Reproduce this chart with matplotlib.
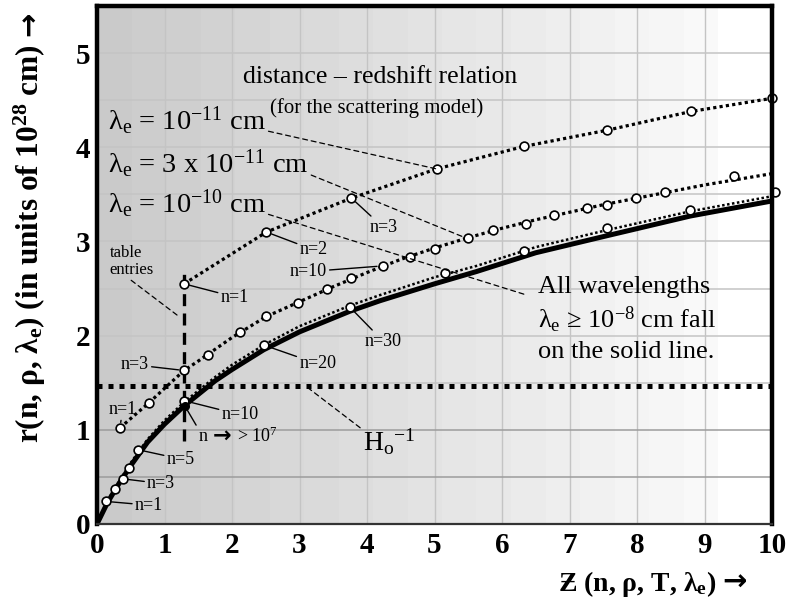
import numpy as np
import matplotlib
matplotlib.use("Agg")
import matplotlib.pyplot as plt

# ======================================================
# DATA  (Z = redshift, r in units of 1e28 cm)
# ======================================================
# lambda_e = 1e-11 cm
z_11 = [1.29, 2.51, 3.77, 5.03, 6.33, 7.55, 8.80, 10.0]
r_11 = [2.55, 3.10, 3.46, 3.77, 4.01, 4.18, 4.38, 4.52]

# lambda_e = 3e-11 cm (table entries + dotted guide)
z_3e11 = [0.34, 0.775, 1.29, 1.65, 2.12, 2.51, 2.98, 3.41, 3.77, 4.23, 4.63,
          5.01, 5.50, 5.87, 6.36, 6.77, 7.26, 7.56, 7.99, 8.41, 9.44]
r_3e11 = [1.02, 1.29, 1.63, 1.79, 2.04, 2.21, 2.35, 2.49, 2.61, 2.74, 2.84,
          2.92, 3.04, 3.12, 3.19, 3.28, 3.35, 3.39, 3.46, 3.53, 3.70]
z_3e11_line = [0.34, 0.5, 0.775, 1.0, 1.29, 1.5, 2.0, 2.5, 3.0, 3.5, 4.0, 4.5,
               5.0, 5.5, 6.0, 6.5, 7.0, 7.5, 8.0, 8.5, 9.0, 9.5, 10.0]
r_3e11_line = [1.02, 1.12, 1.29, 1.44, 1.63, 1.73, 1.98, 2.20, 2.36, 2.52, 2.67, 2.81,
               2.93, 3.04, 3.14, 3.23, 3.31, 3.39, 3.46, 3.53, 3.60, 3.66, 3.72]

# lambda_e = 1e-10 cm (table entries + dotted guide)
z_10 = [0.13, 0.27, 0.38, 0.48, 0.60, 1.29, 2.47, 3.75, 5.16, 6.33, 7.55, 8.79, 10.05]
r_10 = [0.24, 0.37, 0.48, 0.59, 0.79, 1.31, 1.90, 2.30, 2.67, 2.90, 3.14, 3.33, 3.52]
z_line = [0, 0.15, 0.3, 0.5, 0.75, 1.0, 1.3, 1.75, 2.0, 2.47, 3.0, 3.75, 4.19,
          5.0, 5.62, 6.5, 7.55, 8.79, 10.0]
r_10_line = [0, 0.24, 0.42, 0.65, 0.90, 1.10, 1.30, 1.56, 1.69, 1.90, 2.10, 2.32, 2.43,
             2.62, 2.74, 2.94, 3.12, 3.32, 3.48]

# lambda_e >= 1e-8 cm : solid line
r_solid = [0, 0.22, 0.40, 0.62, 0.87, 1.06, 1.26, 1.52, 1.64, 1.85, 2.04, 2.26, 2.37,
           2.55, 2.68, 2.88, 3.06, 3.27, 3.43]

# limit n -> >1e7 at the table redshift
z_limit, r_limit = 1.30, 1.255
z_table = 1.29
table_span = [0.88, 2.72]
r_hubble = 1.46

x_ticks = list(range(0, 11))
y_ticks = [0, 1, 2, 3, 4, 5]

# ======================================================
# STYLE
# ======================================================
plt.rcParams["font.family"] = ["Liberation Serif", "DejaVu Sans"]
plt.rcParams["mathtext.fontset"] = "custom"
plt.rcParams["mathtext.rm"] = "Liberation Serif"
plt.rcParams["mathtext.it"] = "Liberation Serif:italic"
plt.rcParams["mathtext.bf"] = "Liberation Serif:bold"

# chunky arrow glyph
arrow_font = dict(family="DejaVu Sans", fontweight="bold")

fig = plt.figure(figsize=(7.91, 6.01), dpi=100)
ax = fig.add_axes([97 / 791, 77 / 601, 675 / 791, 518 / 601])
ax.set_xlim(0, 10)
ax.set_ylim(0, 5.5)

# shaded background, darker on the left
n_bands = 18
edges = np.append(np.linspace(0, 9.2, n_bands + 1), 10.0)
shade = np.append(np.linspace(0.79, 0.975, n_bands), 1.0)
ax.pcolormesh(edges, [0, 5.5], shade[None, :], cmap="gray", vmin=0, vmax=1,
              shading="flat", zorder=0)

# grid
for xv in x_ticks[1:-1]:
    ax.axvline(xv, color="#c4c4c4", lw=1.0, zorder=1)
for yv in np.arange(0.5, 5.5, 0.5):
    col = "#9c9c9c" if yv <= 1.0 else "#c4c4c4"
    ax.axhline(yv, color=col, lw=1.1, zorder=1)

# H_o^-1 line
ax.axhline(r_hubble, color="black", lw=3.6, dashes=(1, 1.2), dash_capstyle="butt", zorder=3)

# table entries vertical dashed
ax.plot([z_table, z_table], table_span, color="black", lw=2.4,
        dashes=(3.6, 2.2), dash_capstyle="butt", zorder=3)

# curves
ax.plot(z_line, r_solid, color="black", lw=3.6, solid_capstyle="butt", zorder=4)
ax.plot(z_line, r_10_line, color="black", lw=1.8, dashes=(1, 1), dash_capstyle="butt", zorder=4)
ax.plot(z_3e11_line, r_3e11_line, color="black", lw=2.3, dashes=(1, 1),
        dash_capstyle="butt", zorder=4)
ax.plot(z_11, r_11, color="black", lw=2.3, dashes=(1, 1), dash_capstyle="butt", zorder=4)

mk = dict(ls="none", marker="o", ms=6.3, mfc="white", mec="black", mew=1.2,
          zorder=6, clip_on=False)
ax.plot(z_11, r_11, **mk)
ax.plot(z_3e11, r_3e11, **mk)
ax.plot(z_10, r_10, **mk)
ax.plot([z_limit], [r_limit], ls="none", marker="o", ms=5.5, color="black", zorder=7)

# ======================================================
# LABELS
# ======================================================
lead = dict(arrowstyle="-", color="black", lw=1.0, shrinkA=0, shrinkB=4)
small = 13


def n_label(text, xy, xytext, ha="center"):
    ax.annotate(text, xy=xy, xytext=xytext, fontsize=small, ha=ha, va="center",
                arrowprops=lead, zorder=8)


# solid line / 1e-10
n_label("n=1", (z_10[0], r_10[0]), (0.77, 0.20))
n_label("n=3", (z_10[2], r_10[2]), (0.95, 0.43))
n_label("n=5", (z_10[4], r_10[4]), (1.24, 0.69))
n_label("n=10", (z_10[5], r_10[5]), (2.12, 1.16))
n_label("n=20", (z_10[6], r_10[6]), (3.27, 1.70))
n_label("n=30", (z_10[7], r_10[7]), (4.24, 1.94))
n_label("n", (z_limit, r_limit), (1.50, 0.93), ha="left")
ax.text(1.72, 0.935, "\u2192", fontsize=16, va="center", zorder=8, **arrow_font)
ax.text(2.08, 0.93, "> 10$^{7}$", fontsize=small, va="center", zorder=8)

# 3e-11
n_label("n=1", (z_3e11[0], r_3e11[0]), (0.38, 1.22))
n_label("n=3", (z_3e11[2], r_3e11[2]), (0.56, 1.69))
n_label("n=10", (z_3e11[9], r_3e11[9]), (3.13, 2.68))

# 1e-11
n_label("n=1", (z_11[0], r_11[0]), (2.04, 2.41))
n_label("n=2", (z_11[1], r_11[1]), (3.21, 2.91))
n_label("n=3", (z_11[2], r_11[2]), (4.24, 3.15))

dash_lead = dict(arrowstyle="-", color="black", lw=0.9, linestyle=(0, (4, 3)),
                 shrinkA=0, shrinkB=0)

ax.annotate("table\nentries", xy=(z_table - 0.07, 2.20), xytext=(0.19, 2.79),
            fontsize=small - 1, ha="left", va="center", linespacing=1.05,
            arrowprops=dict(dash_lead, relpos=(0.4, 0.0)), zorder=8)

big = 19
ax.text(2.16, 4.75, "distance \u2013 redshift relation", fontsize=18.5, va="center", zorder=8)
ax.text(2.56, 4.42, "(for the scattering model)", fontsize=15, va="center", zorder=8)

lam_labels = [r"λ$_\mathrm{e}$ = 10$^{-11}$ cm",
              r"λ$_\mathrm{e}$ = 3 x 10$^{-11}$ cm",
              r"λ$_\mathrm{e}$ = 10$^{-10}$ cm"]
lam_y = [4.28, 3.82, 3.40]
lam_targets = [(z_11[3], r_11[3]), (5.42, 3.05), (6.37, 2.43)]
for txt, yv, tgt in zip(lam_labels, lam_y, lam_targets):
    ax.annotate(txt, xy=tgt, xytext=(0.16, yv), fontsize=20.5, ha="left",
                va="center", arrowprops=dict(dash_lead, relpos=(1.0, 0.2)), zorder=8)

ax.text(6.53, 2.52, "All wavelengths", fontsize=big, va="center", zorder=8)
ax.text(6.53, 2.17, r"λ$_\mathrm{e}$ ≥ 10$^{-8}$ cm fall", fontsize=big, va="center", zorder=8)
ax.text(6.53, 1.83, "on the solid line.", fontsize=big, va="center", zorder=8)

ax.annotate(r"H$_\mathrm{o}$$^{-1}$", xy=(3.10, r_hubble), xytext=(3.94, 0.87),
            fontsize=20, ha="left", va="center",
            arrowprops=dict(dash_lead, relpos=(0.0, 0.9)), zorder=8)

# ======================================================
# AXES
# ======================================================
ax.set_xticks(x_ticks)
ax.set_yticks(y_ticks)
ax.set_xticklabels([str(t) for t in x_ticks], fontsize=21, fontweight="bold")
ax.set_yticklabels([str(t) for t in y_ticks], fontsize=21, fontweight="bold")
ax.tick_params(axis="both", length=0)
ax.tick_params(axis="x", pad=6)
ax.tick_params(axis="y", pad=5)

for side in ["left", "top", "right"]:
    ax.spines[side].set_linewidth(3.2)
    ax.spines[side].set_color("black")
ax.spines["bottom"].set_linewidth(1.6)
ax.spines["bottom"].set_color("#333333")
for sp in ax.spines.values():
    sp.set_zorder(9)

# axis titles, each followed by a heavy arrow
fig.text(716 / 791, 1 - 584 / 601, "\u01b5 (n, ρ, T, λ$_\\mathbf{e}$)", fontsize=20,
         fontweight="bold", ha="right", va="center")
fig.text(722 / 791, 1 - 583 / 601, "\u2192", fontsize=21, ha="left", va="center",
         **arrow_font)

fig.text(30 / 791, 1 - 44 / 601, "r(n, ρ, λ$_\\mathbf{e}$) (in units of 10$^{\\mathbf{28}}$ cm)",
         fontsize=22.5, fontweight="bold", rotation=90, ha="center", va="top")
fig.text(30 / 791, 1 - 12 / 601, "\u2192", fontsize=21, rotation=90, ha="center",
         va="top", **arrow_font)

fig.savefig("out.png", dpi=100)
